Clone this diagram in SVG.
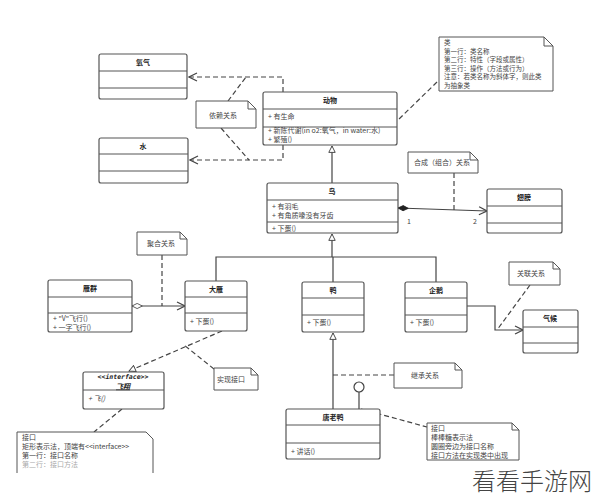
<svg xmlns="http://www.w3.org/2000/svg" width="598" height="500" viewBox="0 0 598 500">
<defs>
<style>
.box{fill:#fff;stroke:#555;stroke-width:1.2}
.div{stroke:#555;stroke-width:1}
.t{font-family:"Noto Sans CJK SC","Liberation Sans",sans-serif;font-size:7px;fill:#444}
.ts{font-family:"Noto Sans CJK SC","Liberation Sans",sans-serif;font-size:6.5px;fill:#444}
.tb{font-family:"Noto Sans CJK SC","Liberation Sans",sans-serif;font-size:7px;fill:#222;font-weight:bold;text-anchor:middle}
.note{fill:#fff;stroke:#555;stroke-width:1}
.ln{fill:none;stroke:#444;stroke-width:1.2}
.dash{fill:none;stroke:#444;stroke-width:1.2;stroke-dasharray:5,3}
</style>
<marker id="open" viewBox="0 0 10 10" refX="9" refY="5" markerWidth="10" markerHeight="10" markerUnits="userSpaceOnUse" orient="auto"><path d="M1,1 L9,5 L1,9" fill="none" stroke="#444" stroke-width="1.2"/></marker>
<marker id="tri" viewBox="0 0 10 10" refX="9" refY="5" markerWidth="8" markerHeight="8" markerUnits="userSpaceOnUse" orient="auto"><path d="M1,1 L9,5 L1,9 Z" fill="#fff" stroke="#444" stroke-width="1.2"/></marker>
<marker id="fdia" viewBox="0 0 14 8" refX="1" refY="4" markerWidth="12" markerHeight="7" markerUnits="userSpaceOnUse" orient="auto"><path d="M1,4 L7,1 L13,4 L7,7 Z" fill="#222" stroke="#222"/></marker>
<marker id="hdia" viewBox="0 0 14 8" refX="1" refY="4" markerWidth="12" markerHeight="7" markerUnits="userSpaceOnUse" orient="auto"><path d="M1,4 L7,1 L13,4 L7,7 Z" fill="#fff" stroke="#444"/></marker>
</defs>
<rect width="598" height="500" fill="#fff"/>

<g id="connectors">
<path class="dash" d="M283,92 V77 H189" marker-end="url(#open)"/>
<path class="dash" d="M283,145 V160 H190" marker-end="url(#open)"/>
<path class="dash" d="M228,101 L246,77"/>
<path class="dash" d="M221,128 L249,160"/>
<path class="dash" d="M437,82 L398,120"/>
<path class="ln" d="M332,183 V146" marker-end="url(#tri)"/>
<path class="ln" d="M398,208 L487,211" marker-start="url(#fdia)" marker-end="url(#open)"/>
<path class="dash" d="M454,173 V210"/>
<path class="ln" d="M216,281 V257 H436 V282"/>
<path class="ln" d="M333,282 V257"/>
<path class="ln" d="M332,257 V234" marker-end="url(#tri)"/>
<path class="ln" d="M132,306 L185,306" marker-start="url(#hdia)" marker-end="url(#open)"/>
<path class="dash" d="M162,255 V306"/>
<path class="ln" d="M467,306 H495 V330 H523" marker-end="url(#open)"/>
<path class="dash" d="M530,285 L497,330"/>
<path class="dash" d="M222,331 L129,371" marker-end="url(#tri)"/>
<path class="dash" d="M214,369 L184,345"/>
<path class="dash" d="M122,409 L94,432"/>
<path class="ln" d="M333,409 V333" marker-end="url(#tri)"/>
<path class="dash" d="M333,375 H394"/>
<circle cx="359" cy="387" r="5" fill="#fff" stroke="#444" stroke-width="1.2"/>
<path class="ln" d="M359,392 V409"/>
<path class="dash" d="M361,409 L427,427"/>
<text class="t" x="407" y="224">1</text>
<text class="t" x="473" y="224">2</text>
</g>

<g id="oxygen">
<rect class="box" x="99" y="54" width="88" height="45" rx="2"/>
<line class="div" x1="99" y1="71" x2="187" y2="71"/>
<line class="div" x1="99" y1="88" x2="187" y2="88"/>
<text class="tb" x="143" y="65">氧气</text>
</g>
<g id="water">
<rect class="box" x="99" y="138" width="89" height="45" rx="2"/>
<line class="div" x1="99" y1="154" x2="188" y2="154"/>
<line class="div" x1="99" y1="171" x2="188" y2="171"/>
<text class="tb" x="143" y="149">水</text>
</g>
<g id="note-dep">
<path class="note" d="M196,101 H248 L256,109 V128 H196 Z M248,101 V109 H256"/>
<text class="t" x="209" y="118">依赖关系</text>
</g>
<g id="animal">
<rect class="box" x="263" y="92" width="134" height="53" rx="2"/>
<line class="div" x1="263" y1="109" x2="397" y2="109"/>
<line class="div" x1="263" y1="127" x2="397" y2="127"/>
<text class="tb" x="330" y="103">动物</text>
<text class="t" x="268" y="119">+ 有生命</text>
<text class="t" x="268" y="133">+ 新陈代谢(in o2:氧气，in water:水)</text>
<text class="t" x="268" y="142">+ 繁殖()</text>
</g>
<g id="note-class">
<path class="note" d="M439,37 H544 L553,46 V91 H439 Z M544,37 V46 H553"/>
<text class="ts" x="444" y="45">类</text>
<text class="ts" x="444" y="53.5">第一行：类名称</text>
<text class="ts" x="444" y="62">第二行：特性（字段或属性）</text>
<text class="ts" x="444" y="70.5">第三行：操作（方法或行为）</text>
<text class="ts" x="444" y="79">注意：若类名称为斜体字，则此类</text>
<text class="ts" x="444" y="87.5">为抽象类</text>
</g>
<g id="bird">
<rect class="box" x="267" y="183" width="131" height="50" rx="2"/>
<line class="div" x1="267" y1="200" x2="398" y2="200"/>
<line class="div" x1="267" y1="222" x2="398" y2="222"/>
<text class="tb" x="332" y="194">鸟</text>
<text class="t" x="272" y="209">+ 有羽毛</text>
<text class="t" x="272" y="218">+ 有角质喙没有牙齿</text>
<text class="t" x="272" y="231">+ 下蛋()</text>
</g>
<g id="note-comp">
<path class="note" d="M408,152 H470 L478,160 V173 H408 Z M470,152 V160 H478"/>
<text class="t" x="414" y="165">合成（组合）关系</text>
</g>
<g id="wing">
<rect class="box" x="487" y="189" width="75" height="44" rx="2"/>
<line class="div" x1="487" y1="206" x2="562" y2="206"/>
<line class="div" x1="487" y1="223" x2="562" y2="223"/>
<text class="tb" x="524" y="200">翅膀</text>
</g>
<g id="note-agg">
<path class="note" d="M137,232 H180 L187,239 V255 H137 Z M180,232 V239 H187"/>
<text class="t" x="147" y="246">聚合关系</text>
</g>
<g id="goose-flock">
<rect class="box" x="48" y="280" width="84" height="52" rx="2"/>
<line class="div" x1="48" y1="297" x2="132" y2="297"/>
<line class="div" x1="48" y1="313" x2="132" y2="313"/>
<text class="tb" x="90" y="291">雁群</text>
<text class="t" x="53" y="321">+ "V"飞行()</text>
<text class="t" x="53" y="330">+ 一字飞行()</text>
</g>
<g id="goose">
<rect class="box" x="185" y="281" width="62" height="50" rx="2"/>
<line class="div" x1="185" y1="297" x2="247" y2="297"/>
<line class="div" x1="185" y1="313" x2="247" y2="313"/>
<text class="tb" x="216" y="292">大雁</text>
<text class="t" x="190" y="324">+ 下蛋()</text>
</g>
<g id="duck">
<rect class="box" x="302" y="282" width="62" height="50" rx="2"/>
<line class="div" x1="302" y1="298" x2="364" y2="298"/>
<line class="div" x1="302" y1="315" x2="364" y2="315"/>
<text class="tb" x="333" y="293">鸭</text>
<text class="t" x="307" y="325">+ 下蛋()</text>
</g>
<g id="penguin">
<rect class="box" x="405" y="282" width="62" height="50" rx="2"/>
<line class="div" x1="405" y1="298" x2="467" y2="298"/>
<line class="div" x1="405" y1="315" x2="467" y2="315"/>
<text class="tb" x="436" y="293">企鹅</text>
<text class="t" x="410" y="325">+ 下蛋()</text>
</g>
<g id="note-assoc">
<path class="note" d="M509,262 H553 L560,269 V285 H509 Z M553,262 V269 H560"/>
<text class="t" x="517" y="276">关联关系</text>
</g>
<g id="climate">
<rect class="box" x="523" y="310" width="55" height="43" rx="2"/>
<line class="div" x1="523" y1="327" x2="578" y2="327"/>
<line class="div" x1="523" y1="343" x2="578" y2="343"/>
<text class="tb" x="550" y="321">气候</text>
</g>
<g id="fly">
<rect class="box" x="83" y="372" width="81" height="37" rx="2"/>
<line class="div" x1="83" y1="390" x2="164" y2="390"/>
<text x="123" y="379" font-style="italic" text-anchor="middle" style="font-family:'DejaVu Sans Mono','Liberation Mono',monospace;font-size:6.5px;font-weight:bold;fill:#222">&lt;&lt;interface&gt;&gt;</text>
<text class="tb" x="123" y="388.5" font-style="italic" text-decoration="underline">飞翔</text>
<text class="t" x="88" y="401" font-style="italic">+ 飞()</text>
</g>
<g id="note-impl">
<path class="note" d="M214,368 H251 L258,375 V390 H214 Z M251,368 V375 H258"/>
<text class="t" x="217" y="382">实现接口</text>
</g>
<g id="note-iface">
<path class="note" d="M17,432 H146 L153,439 V473 M17,473 V432"/>
<text class="t" x="22" y="440">接口</text>
<text class="t" x="22" y="449">矩形表示法，顶端有&lt;&lt;interface&gt;&gt;</text>
<text class="t" x="22" y="458">第一行：接口名称</text>
<text class="t" x="22" y="467" style="fill:#aaa">第二行：接口方法</text>
</g>
<g id="note-inherit">
<path class="note" d="M394,363 H455 L462,370 V388 H394 Z M455,363 V370 H462"/>
<text class="t" x="411" y="378">继承关系</text>
</g>
<g id="donald">
<rect class="box" x="286" y="409" width="94" height="50" rx="2"/>
<line class="div" x1="286" y1="425" x2="380" y2="425"/>
<line class="div" x1="286" y1="443" x2="380" y2="443"/>
<text class="tb" x="333" y="420">唐老鸭</text>
<text class="t" x="291" y="454">+ 讲话()</text>
</g>
<g id="note-lollipop">
<path class="note" d="M427,423 H512 L519,430 V460 H427 Z M512,423 V430 H519"/>
<text class="t" x="431" y="431">接口</text>
<text class="t" x="431" y="440">棒棒糖表示法</text>
<text class="t" x="431" y="449">圆圈旁边为接口名称</text>
<text class="t" x="431" y="458">接口方法在实现类中出现</text>
</g>
<text x="472" y="490" style="font-family:'Noto Sans CJK SC',sans-serif;font-size:24px;font-weight:300;fill:#444">看看手游网</text>
</svg>
